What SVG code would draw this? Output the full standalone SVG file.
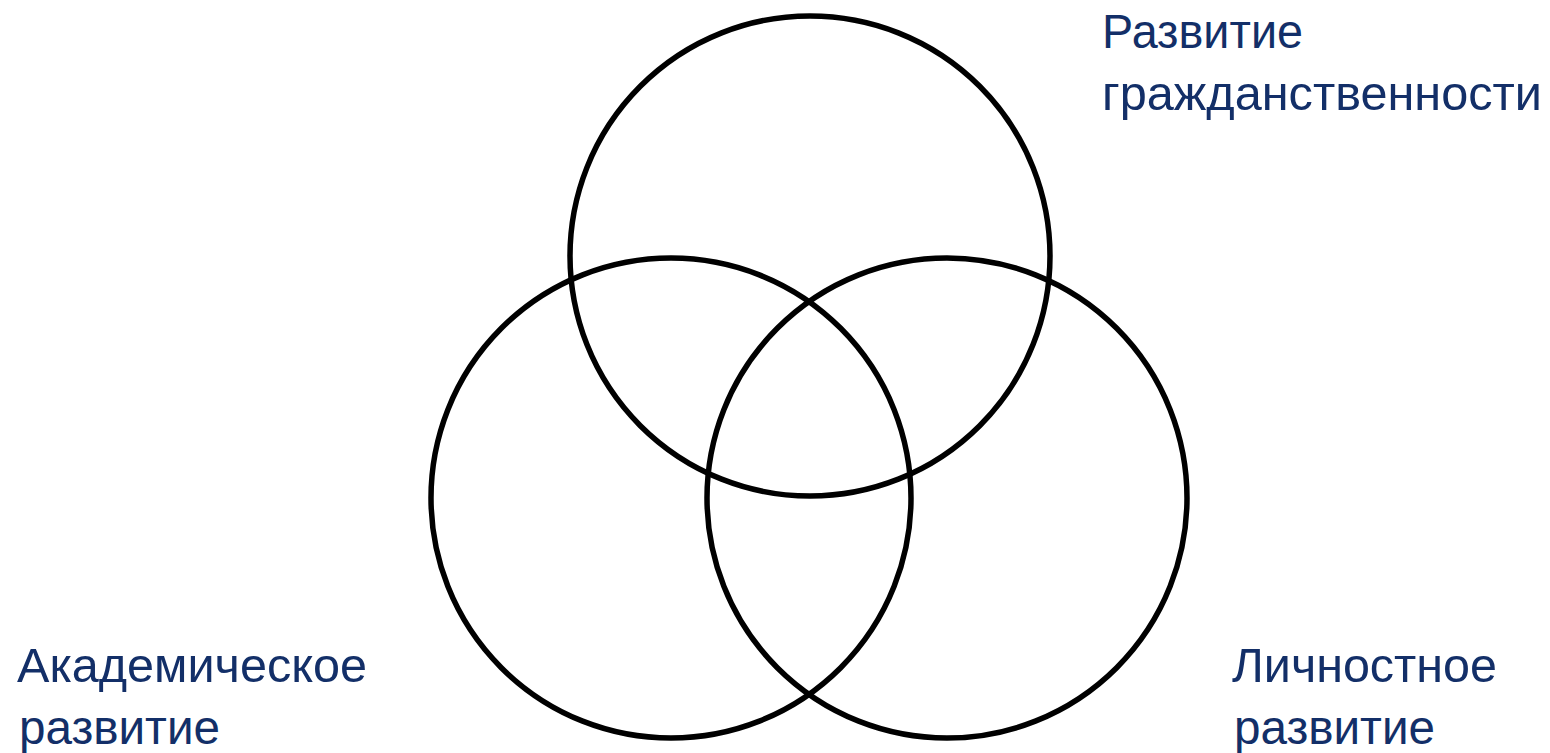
<svg xmlns="http://www.w3.org/2000/svg" width="1550" height="753" viewBox="0 0 1550 753">
<style>
.c{fill:none;stroke:#000;stroke-width:5.5}
.t{font-family:"Liberation Sans",Arial,sans-serif;font-size:48px;fill:#132F68}
</style>
<rect width="1550" height="753" fill="#fff"/>
<g id="circle-civic"><circle class="c" cx="810" cy="256" r="240"/></g>
<g id="circle-academic"><circle class="c" cx="671" cy="498" r="240"/></g>
<g id="circle-personal"><circle class="c" cx="947" cy="498" r="240"/></g>
<g id="label-civic">
<text class="t" x="1102" y="48" textLength="201" lengthAdjust="spacingAndGlyphs">Развитие</text>
<text class="t" x="1102" y="110" textLength="440" lengthAdjust="spacingAndGlyphs">гражданственности</text>
</g>
<g id="label-academic">
<text class="t" x="17" y="682" textLength="350" lengthAdjust="spacingAndGlyphs">Академическое</text>
<text class="t" x="19" y="744" textLength="201" lengthAdjust="spacingAndGlyphs">развитие</text>
</g>
<g id="label-personal">
<text class="t" x="1232" y="682" textLength="265" lengthAdjust="spacingAndGlyphs">Личностное</text>
<text class="t" x="1234" y="744" textLength="201" lengthAdjust="spacingAndGlyphs">развитие</text>
</g>
<g id="connectors"/>
</svg>
